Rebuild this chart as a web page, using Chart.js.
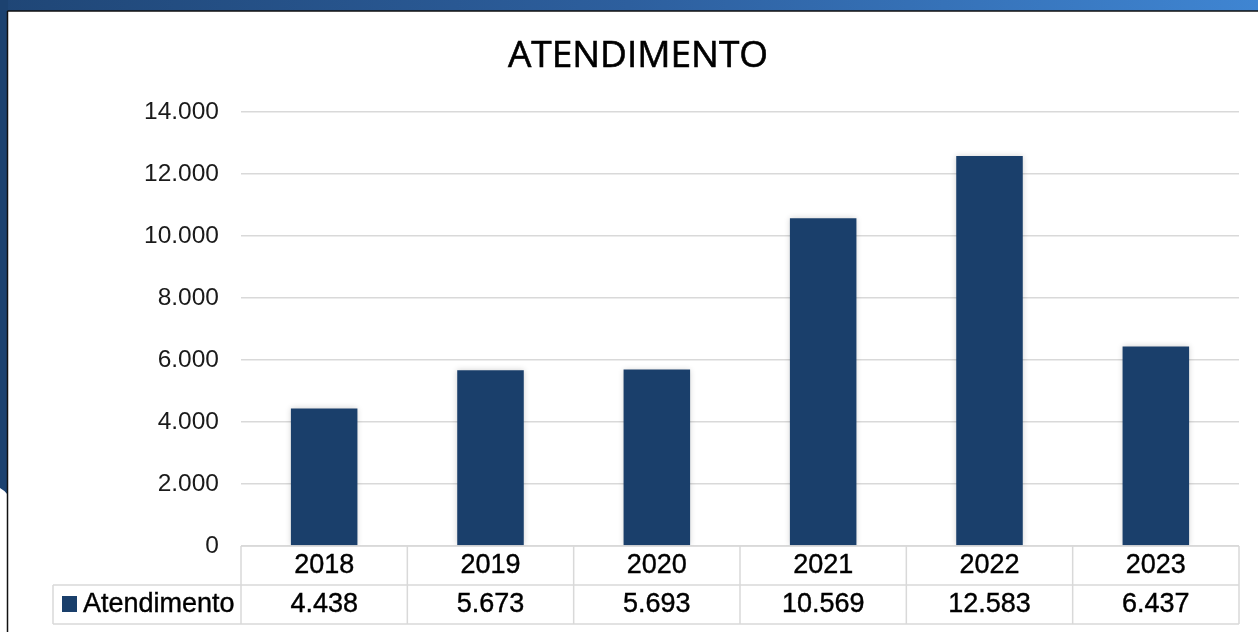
<!DOCTYPE html>
<html>
<head>
<meta charset="utf-8">
<script src="https://cdn.jsdelivr.net/npm/chart.js@4.4.1/dist/chart.umd.min.js"></script>
<style>
  html, body { margin: 0; padding: 0; background: #fff; }
  #wrap { position: relative; width: 1258px; height: 632px; overflow: hidden; }
  canvas { display: block; }
</style>
</head>
<body>
<div id="wrap"><canvas id="chart" width="1258" height="632"></canvas></div>
<script>
// dados do gráfico
const anos = ['2018', '2019', '2020', '2021', '2022', '2023'];
const atendimento = [4438, 5673, 5693, 10569, 12583, 6437];
const serieNome = 'Atendimento';
const tituloTexto = 'ATENDIMENTO';

const BAR = '#1a3f6b';
const GRID = '#d9d9d9';
const FONT = '"Liberation Sans", Arial, sans-serif';

const fmt = v => Number(v).toLocaleString('pt-BR');

/* moldura: faixa azul no topo e na esquerda */
const moldura = {
    id: 'moldura',
    beforeDraw(chart) {
        const ctx = chart.ctx;
        ctx.save();
        const g = ctx.createLinearGradient(0, 0, 1258, 0);
        g.addColorStop(0, '#1f4676');
        g.addColorStop(0.5, '#2d5f9e');
        g.addColorStop(1, '#3f85d2');
        ctx.fillStyle = g;
        ctx.fillRect(0, 0, 1258, 11);
        // lateral esquerda com canto arredondado
        ctx.fillStyle = '#1c4270';
        ctx.beginPath();
        ctx.moveTo(0, 0);
        ctx.lineTo(8, 0);
        ctx.lineTo(8, 495);
        ctx.quadraticCurveTo(4, 490, 0, 488);
        ctx.closePath();
        ctx.fill();
        // linhas pretas
        ctx.strokeStyle = '#111';
        ctx.lineWidth = 1.5;
        ctx.beginPath();
        ctx.moveTo(7.5, 11);
        ctx.lineTo(1258, 11);
        ctx.moveTo(7.5, 11);
        ctx.lineTo(7.5, 632);
        ctx.stroke();
        // título
        ctx.fillStyle = '#000';
        ctx.font = '37px "Open Sans", sans-serif';
        ctx.textAlign = 'center';
        ctx.textBaseline = 'middle';
        ctx.fillText(tituloTexto, 638, 56);
        ctx.strokeStyle = '#000';
        ctx.lineWidth = 0.6;
        ctx.strokeText(tituloTexto, 638, 56);
        ctx.restore();
    },
    beforeDatasetsDraw(chart) {
        const ctx = chart.ctx;
        ctx.save();
        ctx.shadowColor = 'rgba(0,0,0,0.18)';
        ctx.shadowBlur = 6;
        ctx.shadowOffsetX = 0;
        ctx.shadowOffsetY = 0;
    },
    afterDatasetsDraw(chart) {
        chart.ctx.restore();
    },
};

/* tabela de dados abaixo do eixo */
const tabela = {
    id: 'tabela',
    afterDraw(chart) {
        const ctx = chart.ctx;
        const x = chart.scales.x;
        const area = chart.chartArea;
        const w = (area.right - area.left) / anos.length;
        const y0 = area.bottom, y1 = y0 + 39, y2 = y1 + 39;
        const legL = 53;
        ctx.save();
        ctx.strokeStyle = GRID;
        ctx.lineWidth = 1.5;
        ctx.beginPath();
        ctx.moveTo(area.left, y0); ctx.lineTo(area.right, y0);
        ctx.moveTo(legL, y1); ctx.lineTo(area.right, y1);
        ctx.moveTo(legL, y2); ctx.lineTo(area.right, y2);
        ctx.moveTo(legL, y1); ctx.lineTo(legL, y2);
        for (let i = 0; i <= anos.length; i++) {
            const xx = area.left + i * w;
            ctx.moveTo(xx, y0); ctx.lineTo(xx, y2);
        }
        ctx.stroke();

        ctx.fillStyle = '#000';
        ctx.strokeStyle = '#000';
        ctx.lineWidth = 0.4;
        ctx.font = '27px ' + FONT;
        ctx.textAlign = 'center';
        ctx.textBaseline = 'middle';
        anos.forEach((a, i) => {
            const cx = x.getPixelForValue(i);
            ctx.fillText(a, cx, y0 + 20);
            ctx.strokeText(a, cx, y0 + 20);
            ctx.fillText(fmt(atendimento[i]), cx, y1 + 20);
            ctx.strokeText(fmt(atendimento[i]), cx, y1 + 20);
        });
        // legenda
        ctx.fillStyle = BAR;
        ctx.fillRect(62, y1 + 11, 15, 16);
        ctx.fillStyle = '#000';
        ctx.textAlign = 'left';
        ctx.fillText(serieNome, 83, y1 + 20);
        ctx.strokeText(serieNome, 83, y1 + 20);
        ctx.restore();
    },
};

new Chart(document.getElementById('chart').getContext('2d'), {
    type: 'bar',
    data: {
        labels: anos,
        datasets: [{
            label: serieNome,
            data: atendimento,
            backgroundColor: BAR,
            borderWidth: 0,
            categoryPercentage: 0.8,
            barPercentage: 0.5,
        }],
    },
    options: {
        responsive: false,
        animation: false,
        events: [],
        layout: { padding: { top: 112, bottom: 86, right: 19, left: 0 } },
        plugins: { legend: { display: false }, tooltip: { enabled: false }, title: { display: false } },
        scales: {
            x: { display: false },
            y: {
                min: 0,
                max: 14000,
                border: { display: false },
                grid: { color: GRID, lineWidth: 1.5, drawTicks: false },
                afterFit(scale) { scale.width = 241; },
                ticks: {
                    stepSize: 2000,
                    padding: 22,
                    color: '#1a1a1a',
                    font: { family: FONT, size: 24.5 },
                    callback: v => fmt(v),
                },
            },
        },
    },
    plugins: [moldura, tabela],
});
</script>
</body>
</html>
